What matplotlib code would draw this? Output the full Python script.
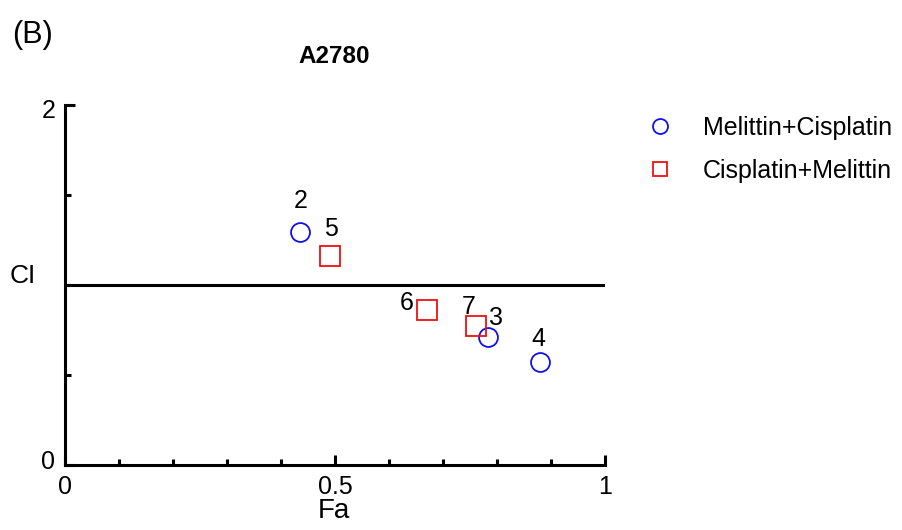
import numpy as np
import matplotlib.pyplot as plt
from matplotlib.ticker import MultipleLocator
from matplotlib.transforms import ScaledTranslation

plt.rcParams['font.family'] = ['Liberation Sans', 'DejaVu Sans']

# combination index (CI) vs fraction affected (Fa)
mc_fa = [0.435, 0.783, 0.880]
mc_ci = [1.29, 0.712, 0.57]
mc_labels = ['2', '3', '4']

cm_fa = [0.491, 0.671, 0.761]
cm_ci = [1.16, 0.86, 0.771]
cm_labels = ['5', '6', '7']

# label offsets in points (dx, dy), measured to the text baseline
mc_offsets = [(0.5, 17.6), (6, 8.4), (-1.2, 12.0)]
cm_offsets = [(0.7, 14.2), (-14.8, 0.2), (-5.3, 8.6)]

fig = plt.figure(figsize=(9.02, 5.30), dpi=100)
ax = fig.add_axes([65 / 902, 65 / 530, 540 / 902, 360.5 / 530])

ax.plot(mc_fa, mc_ci, 'o', ms=13.6, mfc='none', mec='#1010ee', mew=1.3,
        label='Melittin+Cisplatin', clip_on=False)
ax.plot(cm_fa, cm_ci, 's', ms=14.6, mfc='none', mec='#ee1010', mew=1.3,
        label='Cisplatin+Melittin', clip_on=False)

for fa, ci, lab, off in zip(mc_fa, mc_ci, mc_labels, mc_offsets):
    ax.annotate(lab, (fa, ci), xytext=off, textcoords='offset points',
                ha='center', va='baseline', fontsize=18)
for fa, ci, lab, off in zip(cm_fa, cm_ci, cm_labels, cm_offsets):
    ax.annotate(lab, (fa, ci), xytext=off, textcoords='offset points',
                ha='center', va='baseline', fontsize=18)

ax.axhline(1.0, color='black', lw=2.2, zorder=0)

ax.set_xlim(0, 1)
ax.set_ylim(0, 2)
for s in ['top', 'right']:
    ax.spines[s].set_visible(False)
for s in ['left', 'bottom']:
    ax.spines[s].set_linewidth(2.2)

ax.set_xticks([0, 0.5, 1])
ax.set_xticklabels(['0', '0.5', '1'])
ax.set_yticks([0, 2])
ax.set_yticklabels(['0', '2'])
ax.xaxis.set_minor_locator(MultipleLocator(0.1))
ax.yaxis.set_minor_locator(MultipleLocator(0.5))
ax.tick_params(which='major', direction='in', length=7, width=2.2,
               labelsize=18, pad=7)
ax.tick_params(which='minor', direction='in', length=4, width=2.2)

# y tick labels sit slightly inside the axis range
yticks = ax.yaxis.get_major_ticks()
for tick, dy in zip(yticks, [4, -3]):
    tick.label1.set_transform(tick.label1.get_transform() +
                              ScaledTranslation(0, dy / 72, fig.dpi_scale_trans))

ax.set_xlabel('Fa', fontsize=20, va='baseline')
ax.xaxis.set_label_coords(0.498, -0.147)
ax.set_ylabel('CI', fontsize=19, rotation=0, ha='center', va='baseline')
ax.yaxis.set_label_coords(-0.078, 0.505)

ax.text(0.498, 1.115, 'A2780', transform=ax.transAxes, fontsize=17.5,
        fontweight='bold', ha='center', va='baseline')

fig.text(32.5 / 902, 1 - 35 / 530, '(B)', fontsize=22, ha='center',
         va='center')

leg = ax.legend(loc='upper left', bbox_to_anchor=(647.5 / 902, 1 - 116 / 530),
                bbox_transform=fig.transFigure, frameon=False, fontsize=18,
                handlelength=1.0, handletextpad=1.22, labelspacing=0.76,
                borderpad=0, borderaxespad=0)
for h, ms in zip(leg.legend_handles, [10.8, 9.4]):
    h.set_markersize(ms)

fig.savefig('out.png', dpi=100)
